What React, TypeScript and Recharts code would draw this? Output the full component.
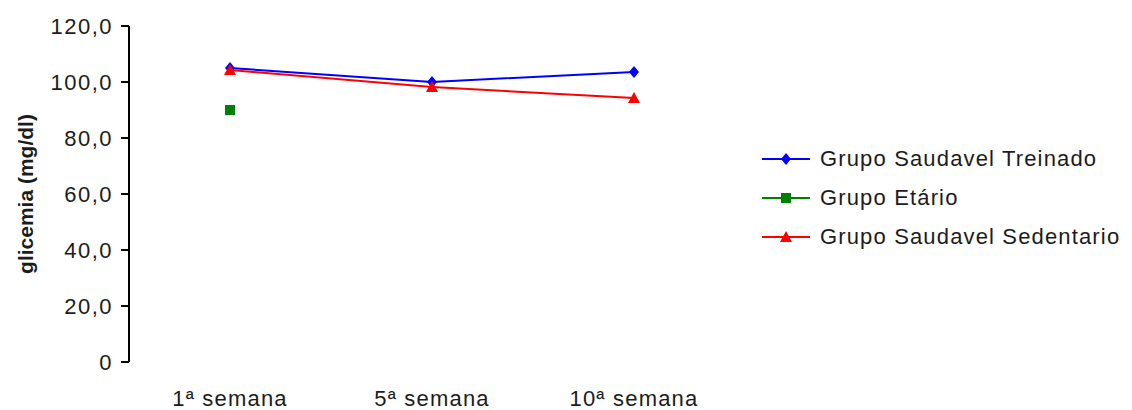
import { Line, LineChart, XAxis, YAxis } from "recharts";

const semanas = ["1ª semana", "5ª semana", "10ª semana"];
const treinado = [105.0, 100.0, 103.6];
const etario = [90.0, null, null];
const sedentario = [104.3, 98.2, 94.3];
const yTicks = [0, 20, 40, 60, 80, 100, 120];

const data = semanas.map((semana, i) => ({
  semana,
  treinado: treinado[i],
  etario: etario[i],
  sedentario: sedentario[i],
}));

const FONT = '"Liberation Sans", Arial, sans-serif';
const TEXT = "#1c1c1c";

const fmt = (v: number) => (v === 0 ? "0" : v.toFixed(1).replace(".", ","));

function Diamond({ cx, cy, fill }: any) {
  if (cx == null || cy == null) return null;
  return <path d={`M${cx},${cy - 6}L${cx + 5},${cy}L${cx},${cy + 6}L${cx - 5},${cy}Z`} fill={fill} />;
}

function Square({ cx, cy, fill }: any) {
  if (cx == null || cy == null) return null;
  return <rect x={cx - 5} y={cy - 5} width={10} height={10} fill={fill} />;
}

function Triangle({ cx, cy, fill }: any) {
  if (cx == null || cy == null) return null;
  return <path d={`M${cx},${cy - 6}L${cx + 6},${cy + 5}L${cx - 6},${cy + 5}Z`} fill={fill} />;
}

const series = [
  { key: "treinado", name: "Grupo Saudavel Treinado", color: "#0000ff", Marker: Diamond },
  { key: "etario", name: "Grupo Etário", color: "#008000", Marker: Square },
  { key: "sedentario", name: "Grupo Saudavel Sedentario", color: "#ff0000", Marker: Triangle },
];

// legend sits to the right of the plot, outside the chart's layout
function LegendBox() {
  return (
    <div
      style={{
        position: "absolute",
        left: 754,
        top: 131,
        fontFamily: FONT,
        fontSize: 22,
        letterSpacing: 1.15,
        color: TEXT,
      }}
    >
      {series.map(({ key, name, color, Marker }) => (
        <div key={key} style={{ display: "flex", alignItems: "center", height: 39 }}>
          <svg width={58} height={20} style={{ flex: "none" }}>
            <line x1={0} y1={10} x2={48} y2={10} stroke={color} strokeWidth={2} />
            <Marker cx={24} cy={10} fill={color} />
          </svg>
          <span style={{ whiteSpace: "nowrap" }}>{name}</span>
        </div>
      ))}
    </div>
  );
}

export default function App() {
  return (
    <div style={{ position: "relative", width: 1124, height: 402 }}>
      <LineChart
        width={1124}
        height={402}
        data={data}
        margin={{ top: 18, right: 397, bottom: 0, left: 0 }}
      >
        <XAxis
          dataKey="semana"
          scale="band"
          axisLine={false}
          tickLine={false}
          tickSize={0}
          tickMargin={28}
          height={48}
          tick={{ fill: TEXT, fontSize: 22, fontFamily: FONT, letterSpacing: 1.2 }}
        />
        <YAxis
          width={121}
          domain={[0, 120]}
          ticks={yTicks}
          tickFormatter={fmt}
          axisLine={{ stroke: "#000", strokeWidth: 2 }}
          tickLine={{ stroke: "#000", strokeWidth: 2 }}
          tickSize={8}
          tickMargin={8}
          tick={{ fill: TEXT, fontSize: 22, fontFamily: FONT, letterSpacing: 1.5 }}
          label={{
            content: ({ viewBox }: any) => (
              <text
                x={17}
                y={viewBox.y + viewBox.height / 2}
                transform={`rotate(-90, 17, ${viewBox.y + viewBox.height / 2})`}
                textAnchor="middle"
                dominantBaseline="central"
                fontFamily={FONT}
                fontSize={21}
                fontWeight="bold"
                fill={TEXT}
              >
                glicemia (mg/dl)
              </text>
            ),
          }}
        />
        {series.map(({ key, name, color, Marker }) => (
          <Line
            key={key}
            dataKey={key}
            name={name}
            stroke={color}
            strokeWidth={2}
            type="linear"
            dot={<Marker fill={color} />}
            activeDot={false}
            isAnimationActive={false}
          />
        ))}
      </LineChart>
      <LegendBox />
    </div>
  );
}
